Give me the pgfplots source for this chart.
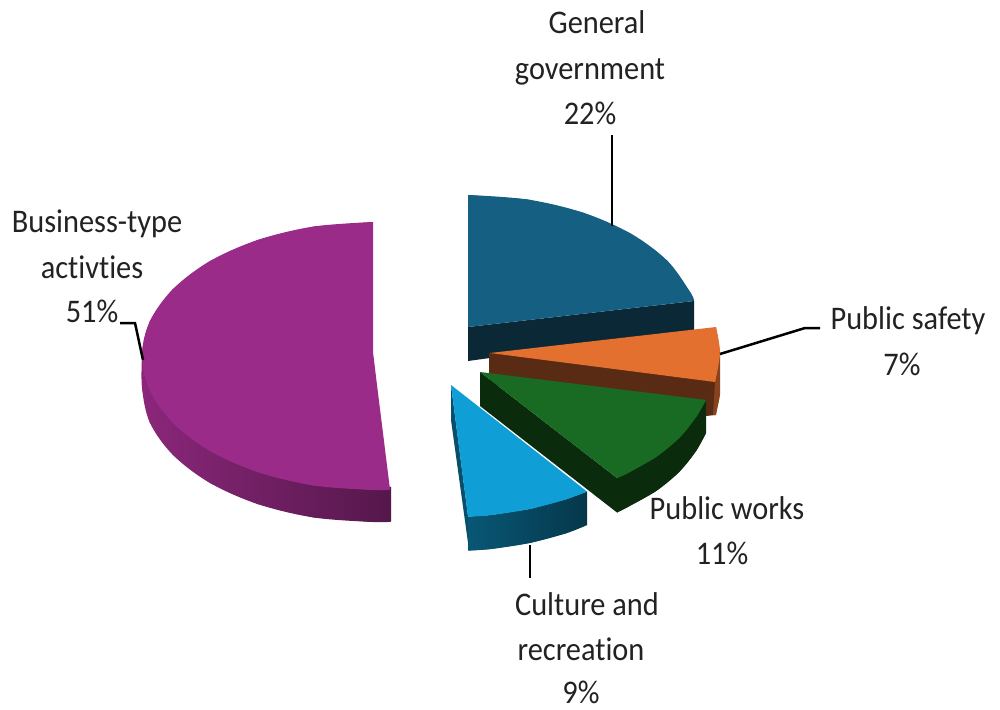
\documentclass[border=0pt]{standalone}
\usepackage{fontspec}
\usepackage{pgfplots}
\pgfplotsset{compat=1.18}
\setmainfont[FakeStretch=0.92,Ligatures=NoCommon]{Carlito}
\definecolor{cpurple}{HTML}{9A2B88}
\definecolor{cteal}{HTML}{156082}
\definecolor{ctealw}{HTML}{0A2836}
\definecolor{corange}{HTML}{E3702F}
\definecolor{corangew}{HTML}{5A2B14}
\definecolor{cgreen}{HTML}{196B24}
\definecolor{cgreenw}{HTML}{0B2B0D}
\definecolor{ccyan}{HTML}{0F9ED5}
\definecolor{ctext}{HTML}{222222}
\tikzset{lbl/.style={font=\fontsize{33}{36}\selectfont, text=ctext, anchor=base, inner sep=0pt}}
\begin{document}
\begin{tikzpicture}
\begin{axis}[
  scale only axis, width=1000pt, height=709pt,
  xmin=0, xmax=1000, ymin=0, ymax=709, y dir=reverse,
  hide axis, clip=false,
  every axis plot/.append style={no markers, line width=0pt},
  flat/.style={draw=none, forget plot},
  arc/.style={draw=none, forget plot, smooth, tension=0.55},
  pwall/.style={left color=cpurple!90!black, right color=cpurple!55!black},
  cwall/.style={left color=ccyan!55!black, right color=ccyan!35!black},
]
% page frame, invisible, fixes the picture's extent
\addplot[flat] coordinates {(0,0)(1000,0)(1000,709)(0,709)(0,0)};
% Business-type activities: 51%
\addplot[flat, pwall] coordinates {(142,356)(142,388)(149.9,422.7)(173,455)(209.7,482.8)(257.5,504)(313.2,517.4)(373,522)(391,521.6)(391,487)(300,470)(142,356)};
\addplot[arc, pwall] coordinates {(142,356)(142,388)(149.9,422.7)(173,455)(209.7,482.8)(257.5,504)(313.2,517.4)(373,522)(391,521.6)};
\addplot[flat, fill=cpurple] coordinates {(373,222)(313.2,226.6)(257.5,240)(209.7,261.2)(173,289)(149.9,321.3)(142,356)(149.9,390.7)(173,423)(209.7,450.8)(257.5,472)(313.2,485.4)(373,490)(390,489.5)(377,385)(373,352)(373,222)};
\addplot[arc, fill=cpurple] coordinates {(373,222)(313.2,226.6)(257.5,240)(209.7,261.2)(173,289)(149.9,321.3)(142,356)(149.9,390.7)};
\addplot[arc, fill=cpurple] coordinates {(173,289)(149.9,321.3)(142,356)(149.9,390.7)(173,423)(209.7,450.8)(257.5,472)(313.2,485.4)(373,490)(390,489.5)};
% General government: 22%
\addplot[flat, fill=ctealw] coordinates {(694,301)(694,330)(468,361)(468,327)(694,301)};
\addplot[flat, fill=cteal] coordinates {(468,195)(527.7,199.5)(583.3,212.7)(631,233.7)(667.6,261)(690.6,292.8)(694,301)(468,327)(468,195)};
\addplot[arc, fill=cteal] coordinates {(468,195)(527.7,199.5)(583.3,212.7)(631,233.7)(667.6,261)(690.6,292.8)(694,301)};
% Public safety: 7%
\addplot[flat, fill=corangew] coordinates {(489,353)(489,385)(706,416)(715,415)(719,400)(720,355)(489,353)};
\addplot[flat, fill=corange!60!black] coordinates {(715,382)(720,355)(720,395)(716,415)(713,415)(715,382)};
\addplot[flat, fill=corange] coordinates {(490,353)(716,327)(720,353)(715,382)(490,353)};
\addplot[arc, fill=corange] coordinates {(716,327)(720,353)(715,382)};
% Public works: 11%
\addplot[flat, fill=cgreenw] coordinates {(480,372)(480,406)(617,512.5)(627.8,507)(656.2,491)(679.2,472)(696.1,451)(706,433)(706,400)(617,478)(480,372)};
\addplot[arc, fill=cgreenw] coordinates {(617,512.5)(627.8,507)(656.2,491)(679.2,472)(696.1,451)(706,433)};
\addplot[flat, fill=cgreen] coordinates {(480,372)(706,400)(696.1,417.1)(679.2,438)(656.2,456.9)(627.8,473.1)(617,478)(480,372)};
\addplot[arc, fill=cgreen] coordinates {(706,400)(696.1,417.1)(679.2,438)(656.2,456.9)(627.8,473.1)(617,478)};
% Culture and recreation: 9%
\addplot[flat, cwall] coordinates {(468,516.6)(491,515)(529.7,509)(566,499.3)(587,491.5)(587,525)(566,533.3)(529.7,543)(491,549)(468,550.6)(468,516.6)};
\addplot[arc, cwall] coordinates {(468,550.6)(491,549)(529.7,543)(566,533.3)(587,525)};
\addplot[flat, fill=ccyan!50!black] coordinates {(451,385)(451,420)(469,550)(468,516)(451,385)};
\addplot[flat, fill=ccyan] coordinates {(451,385)(587,491.5)(566,499.3)(529.7,509)(491,515)(468,516.6)(451,385)};
\addplot[arc, fill=ccyan] coordinates {(587,491.5)(566,499.3)(529.7,509)(491,515)(468,516.6)};
% Leader lines
\addplot[black, line width=2.5pt, forget plot] coordinates {(612,135)(612,226)};
\addplot[black, line width=2.5pt, forget plot] coordinates {(720,354)(805,328)(820,328)};
\addplot[black, line width=2.5pt, forget plot] coordinates {(143,360)(135,323)(120,323)};
\addplot[black, line width=2.5pt, forget plot] coordinates {(530,545)(530,578)};
% Labels
\node[lbl] at (axis cs:597,34) {General};
\node[lbl] at (axis cs:590,79) {government};
\node[lbl] at (axis cs:590,124) {22\%};
\node[lbl] at (axis cs:97,232) {Business-type};
\node[lbl] at (axis cs:92,278) {activties};
\node[lbl] at (axis cs:92,322) {51\%};
\node[lbl] at (axis cs:908,329) {Public safety};
\node[lbl] at (axis cs:902,375) {7\%};
\node[lbl] at (axis cs:727,519) {Public works};
\node[lbl] at (axis cs:722,564) {11\%};
\node[lbl] at (axis cs:587,615) {Culture and};
\node[lbl] at (axis cs:581,660) {recreation};
\node[lbl] at (axis cs:581,703) {9\%};
\end{axis}
\end{tikzpicture}
\end{document}
